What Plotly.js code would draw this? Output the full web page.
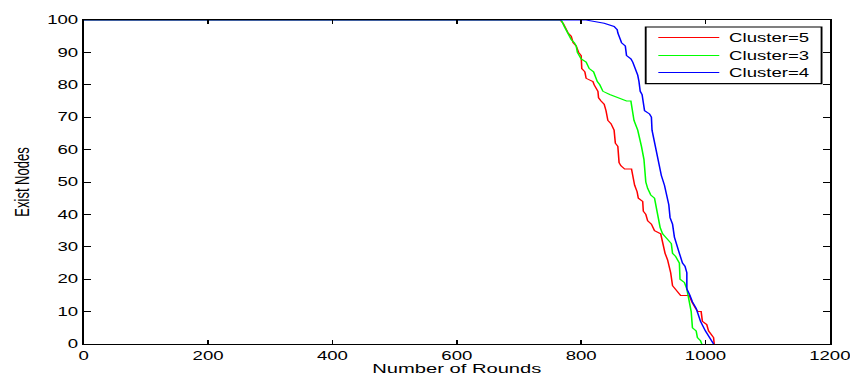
<!DOCTYPE html>
<html>
<head>
<meta charset="utf-8">
<script src="https://cdn.plot.ly/plotly-3.0.1.min.js"></script>
<style>
  html, body { margin:0; padding:0; background:#ffffff; }
  #wrap { width:850px; height:376px; overflow:hidden; position:relative; }
  #plot { width:548px; height:376px; transform:scaleX(1.5511); transform-origin:0 0; }
</style>
</head>
<body>
<div id="wrap"><div id="plot"></div></div>
<script>
// Cluster=5 (red)
const roundsC5 = [0,762,766,771,779,784,787,792,796,800,801,806,808,819,821,827,828,832,837,840,843,848,853,855,859,861,864,870,881,884,886,890,892,899,900,904,907,913,918,928,931,935,939,944,947,951,960,974,978,984,988,993,995,1002,1005,1009,1013,1014];
const nodesC5  = [100,100,100,99,96,95,93,92,90,89,85,84,82,81,80,78,76,75,74,72,69,68,66,62,61,56,55,54,54,51,49,47,45,44,41,40,38,37,35,34,31,28,26,22,18,17,15,15,13,11,10,10,7,6,4,3,2,0];
// Cluster=3 (green)
const roundsC3 = [0,768,773,779,784,789,792,794,800,808,813,820,823,826,830,832,835,846,859,873,880,882,885,891,895,897,901,903,904,907,912,918,920,924,927,931,939,945,947,952,958,959,966,970,972,975,977,979,985,987,992,994];
const nodesC3  = [100,100,98,96,94,93,92,90,88,87,85,84,82,81,80,79,78,77,76,75,75,72,69,66,63,61,57,52,50,48,46,45,43,39,36,34,32,31,28,27,25,20,19,17,15,12,10,5,4,2,1,0];
// Cluster=4 (blue)
const roundsC4 = [0,808,837,853,858,859,863,865,871,873,880,883,887,891,893,895,898,899,902,910,913,914,917,920,922,926,929,934,938,941,943,947,950,954,958,963,967,970,970,975,979,985,992,1000,1006,1013];
const nodesC4  = [100,100,99,98,97,96,94,93,92,89,88,87,85,83,81,78,77,75,72,71,70,66,63,61,58,55,52,49,46,43,39,37,33,30,28,25,24,22,17,15,13,11,7,4,2,0];

const seriesNames = ["Cluster=5","Cluster=3","Cluster=4"];
const seriesColors = ["#ff0000","#00ff00","#0000ff"];
const xTicks = [0,200,400,600,800,1000,1200];
const yTicks = [0,10,20,30,40,50,60,70,80,90,100];

const FONT = "Liberation Sans, Arial, Helvetica, sans-serif";

const seriesX = [roundsC5, roundsC3, roundsC4];
const seriesY = [nodesC5, nodesC3, nodesC4];
const traces = seriesNames.map((n, i) => ({
  x: seriesX[i], y: seriesY[i], name: n, mode: "lines",
  line: {color: seriesColors[i], width: 1}, showlegend: false
}));

// Legend box (MATLAB style), placed in paper coordinates
const legX0 = 0.7532, legX1 = 0.9889, legYTop = 0.9784, legYBot = 0.8037;
const legLineX0 = 0.7701, legLineX1 = 0.8518, legTextX = 0.8600;
const legRowY = [0.9457, 0.8901, 0.8377];

const shapes = [
  {type: "rect", xref: "paper", yref: "paper", x0: legX0, x1: legX1, y0: legYBot, y1: legYTop,
   line: {color: "#000000", width: 1.2}, fillcolor: "#ffffff", layer: "above"}
];
const annotations = [];
seriesNames.forEach((n, i) => {
  shapes.push({type: "line", xref: "paper", yref: "paper", x0: legLineX0, x1: legLineX1,
    y0: legRowY[i], y1: legRowY[i], line: {color: seriesColors[i], width: 1}, layer: "above"});
  annotations.push({xref: "paper", yref: "paper", x: legTextX, y: legRowY[i], text: n,
    showarrow: false, xanchor: "left", yanchor: "middle",
    font: {family: FONT, size: 12, color: "#000000"}});
});

const axisCommon = {
  showline: true, linecolor: "#000000", linewidth: 1.2, mirror: "ticks",
  ticks: "inside", tickcolor: "#000000", tickwidth: 1,
  showgrid: false, zeroline: false,
  tickfont: {family: FONT, size: 12, color: "#000000"}
};

const layout = {
  width: 548, height: 376,
  margin: {l: 53.7, r: 12.9, t: 19.7, b: 32.3},
  paper_bgcolor: "#ffffff", plot_bgcolor: "#ffffff",
  font: {family: FONT, color: "#000000"},
  showlegend: false,
  shapes: shapes,
  annotations: annotations,
  xaxis: Object.assign({}, axisCommon, {
    range: [0, 1200], tickvals: xTicks, ticktext: xTicks.map(String), ticklen: 4,
    ticklabeloverflow: "allow",
    title: {text: "Number of Rounds", font: {family: FONT, size: 13, color: "#000000"}, standoff: 2}
  }),
  yaxis: Object.assign({}, axisCommon, {
    range: [0, 100], tickvals: yTicks, ticktext: yTicks.map(String), ticklen: 4.5,
    title: {text: "Exist Nodes", font: {family: FONT, size: 13, color: "#000000"}, standoff: 8}
  })
};

Plotly.newPlot("plot", traces, layout, {displayModeBar: false, staticPlot: true});
</script>
</body>
</html>
